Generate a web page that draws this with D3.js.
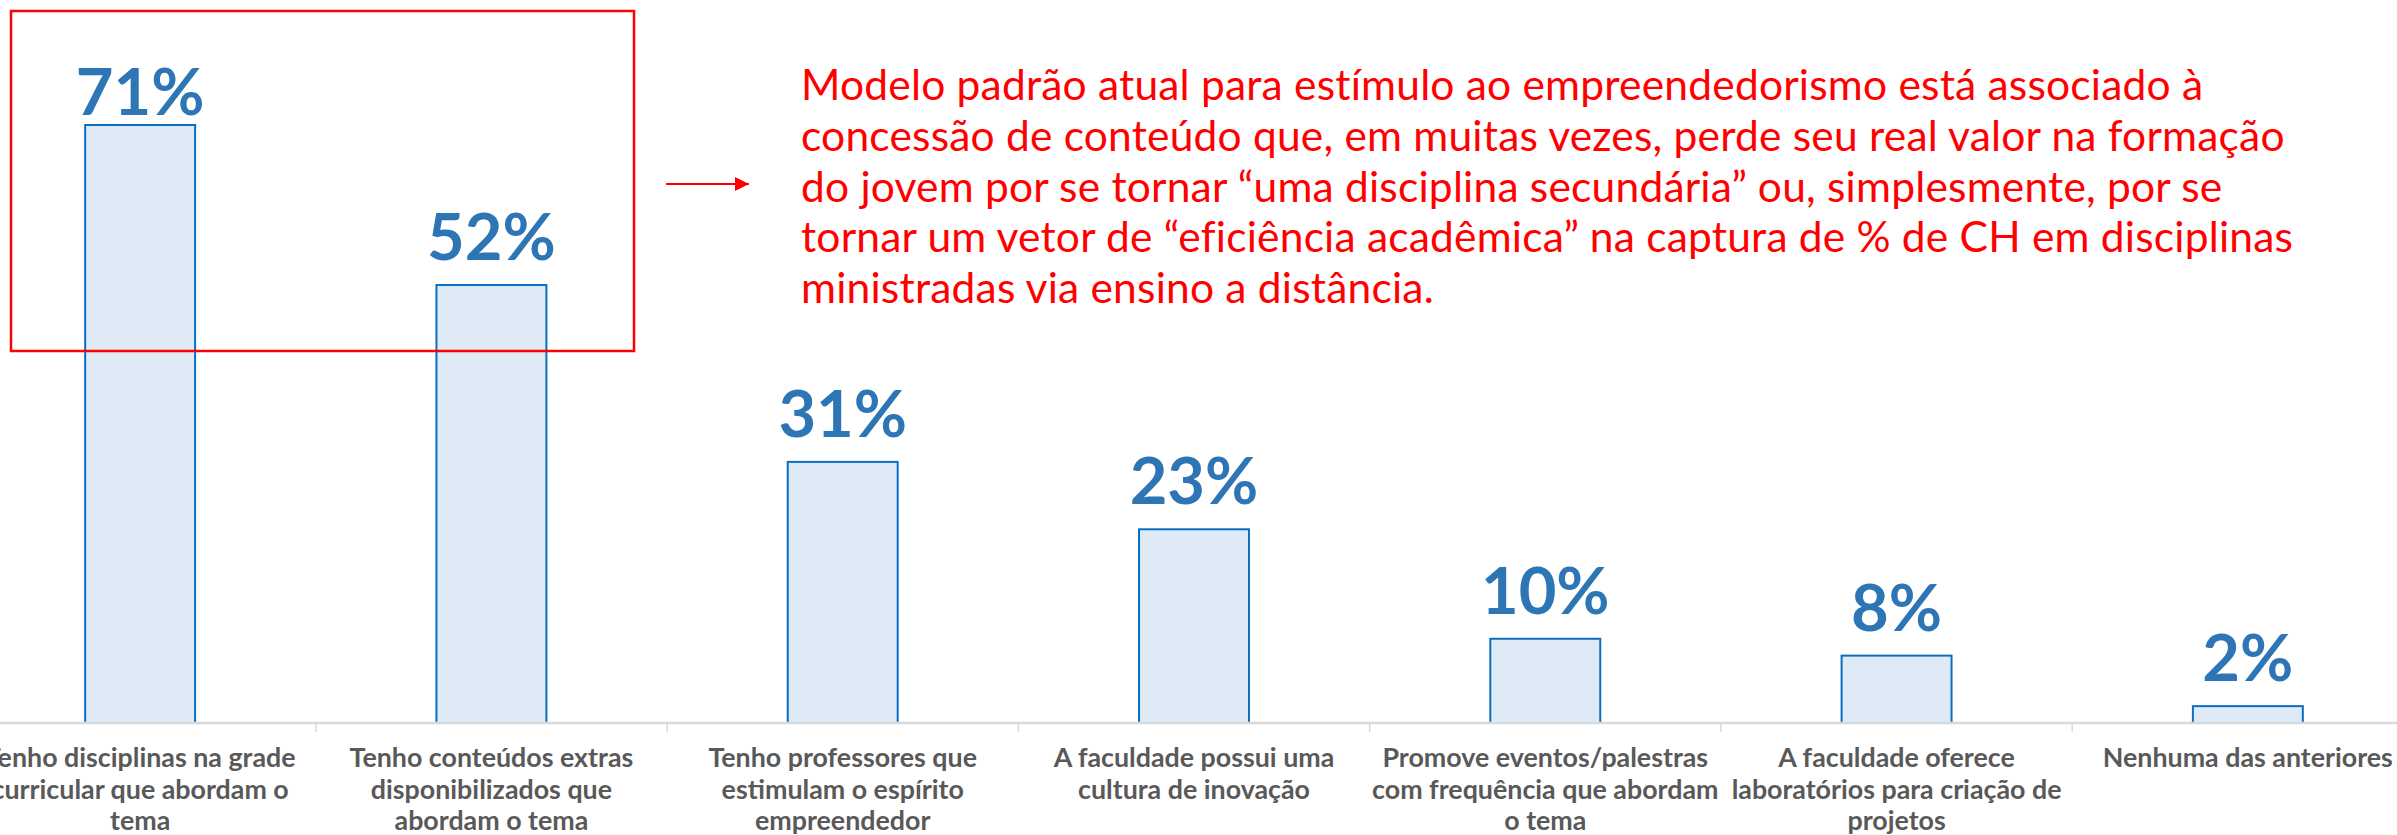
<!DOCTYPE html>
<html>
<head>
<meta charset="utf-8">
<script src="https://cdn.jsdelivr.net/npm/d3@7"></script>
<style>
  html, body { margin: 0; padding: 0; background: #fff; }
  svg { display: block; }
</style>
</head>
<body>
<div id="chart"></div>
<script>
// Survey bars: what students have about entrepreneurship at the university

const categories = [
    ["Tenho disciplinas na grade", "curricular que abordam o", "tema"],
    ["Tenho conteúdos extras", "disponibilizados que", "abordam o tema"],
    ["Tenho professores que", "estimulam o espírito", "empreendedor"],
    ["A faculdade possui uma", "cultura de inovação"],
    ["Promove eventos/palestras", "com frequência que abordam", "o tema"],
    ["A faculdade oferece", "laboratórios para criação de", "projetos"],
    ["Nenhuma das anteriores"]
];
const values = [71, 52, 31, 23, 10, 8, 2];

const noteLines = [
    "Modelo padrão atual para estímulo ao empreendedorismo está associado à",
    "concessão de conteúdo que, em muitas vezes, perde seu real valor na formação",
    "do jovem por se tornar “uma disciplina secundária” ou, simplesmente, por se",
    "tornar um vetor de “eficiência acadêmica” na captura de % de CH em disciplinas",
    "ministradas via ensino a distância."
];

const width = 2397;
const height = 835;
const axisY = 723;

const data = values.map((v, i) => ({ id: i, lines: categories[i], value: v }));

const svg = d3.select('#chart').append('svg')
    .attr('width', width)
    .attr('height', height)
    .attr('viewBox', [0, 0, width, height]);

// the plot area is a bit wider than the picture, first label gets cut on the left
const x = d3.scaleBand()
    .domain(data.map(d => d.id))
    .range([-35.5, 2423.5])
    .padding(0);

const y = d3.scaleLinear()
    .domain([0, 71])
    .range([axisY, 125]);

const barW = x.bandwidth() * 0.313;

// bars
svg.append('g')
    .selectAll('rect')
    .data(data)
    .join('rect')
    .attr('x', d => x(d.id) + (x.bandwidth() - barW) / 2)
    .attr('y', d => y(d.value))
    .attr('width', barW)
    .attr('height', d => axisY - y(d.value))
    .attr('fill', '#DEEBF7')
    .attr('stroke', '#0A6FC2')
    .attr('stroke-width', 2);

// axis line + ticks between categories
const axis = svg.append('g');
axis.append('line')
    .attr('x1', 0).attr('x2', width)
    .attr('y1', axisY).attr('y2', axisY)
    .attr('stroke', '#D9D9D9')
    .attr('stroke-width', 2.5);

axis.selectAll('.tick')
    .data(data.slice(1))
    .join('line')
    .attr('class', 'tick')
    .attr('x1', d => x(d.id)).attr('x2', d => x(d.id))
    .attr('y1', axisY).attr('y2', axisY + 9)
    .attr('stroke', '#D9D9D9')
    .attr('stroke-width', 1.5);

// category labels
const catText = svg.append('g')
    .selectAll('text')
    .data(data)
    .join('text')
    .attr('text-anchor', 'middle')
    .attr('font-family', 'Lato, "Open Sans", sans-serif')
    .attr('font-weight', 700)
    .attr('font-size', '26.8px')
    .attr('fill', '#595959');

catText.selectAll('tspan')
    .data(d => d.lines.map(l => ({ line: l, cx: x(d.id) + x.bandwidth() / 2 })))
    .join('tspan')
    .attr('x', d => d.cx)
    .attr('y', (d, i) => 767 + i * 31.5)
    .text(d => d.line);

// value labels (Excel keeps the top one inside the plot area)
svg.append('g')
    .selectAll('text')
    .data(data)
    .join('text')
    .attr('x', d => x(d.id) + x.bandwidth() / 2)
    .attr('y', d => Math.max(y(d.value) - 25, 115))
    .attr('text-anchor', 'middle')
    .attr('font-family', 'Lato, "Open Sans", sans-serif')
    .attr('font-weight', 700)
    .attr('font-size', '65px')
    .attr('fill', '#2E75B6')
    .text(d => d.value + '%');

// red highlight box around the first two bars
svg.append('rect')
    .attr('x', 11).attr('y', 11)
    .attr('width', 623).attr('height', 340)
    .attr('fill', 'none')
    .attr('stroke', '#FF0000')
    .attr('stroke-width', 2.5);

// arrow
svg.append('defs').append('marker')
    .attr('id', 'head')
    .attr('viewBox', '0 0 10 10')
    .attr('refX', 10).attr('refY', 5)
    .attr('markerWidth', 9).attr('markerHeight', 7)
    .attr('markerUnits', 'strokeWidth')
    .attr('orient', 'auto')
    .append('path')
    .attr('d', 'M0,0 L10,5 L0,10 Z')
    .attr('fill', '#FF0000');

svg.append('line')
    .attr('x1', 666).attr('x2', 749)
    .attr('y1', 184).attr('y2', 184)
    .attr('stroke', '#FF0000')
    .attr('stroke-width', 2)
    .attr('marker-end', 'url(#head)');

// note text
svg.append('text')
    .attr('font-family', 'Lato, "Open Sans", sans-serif')
    .attr('font-size', '42.5px')
    .attr('letter-spacing', '0.2px')
    .attr('fill', '#FF0000')
    .selectAll('tspan')
    .data(noteLines)
    .join('tspan')
    .attr('x', 801)
    .attr('y', (d, i) => 100 + i * 50.8)
    .text(d => d);
</script>
</body>
</html>
